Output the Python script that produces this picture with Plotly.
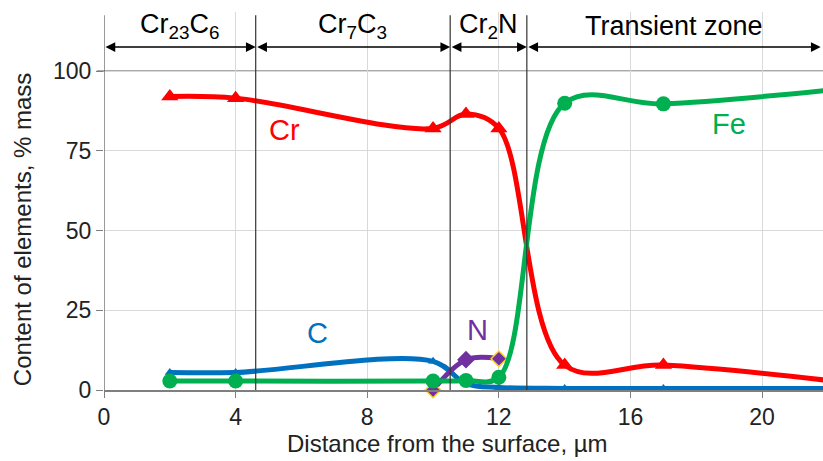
import plotly.graph_objects as go

# ---- data ----
x_main = [2, 4, 10, 11, 12, 14, 17, 22]
cr_vals = [92, 91.5, 82, 86.5, 82, 7.8, 7.8, 3]
fe_vals = [2.8, 2.8, 2.8, 3.0, 4.0, 89.9, 89.7, 94]
c_vals = [5.5, 5.5, 9.0, 2.0, 0.8, 0.5, 0.5, 0.5]
n_x = [10, 11, 12]
n_vals = [0, 9.5, 9.8]

zone_names = ["Cr<sub>23</sub>C<sub>6</sub>", "Cr<sub>7</sub>C<sub>3</sub>", "Cr<sub>2</sub>N", "Transient zone"]
zone_bounds = [0, 4.61, 10.52, 12.85, 21.78]

element_labels = ["Cr", "Fe", "C", "N"]
element_label_x = [5.5, 19.0, 6.5, 11.35]
element_label_y = [81.5, 83.5, 18, 18.8]

x_title = "Distance from the surface, µm"
y_title = "Content of elements, % mass"

RED = "#FF0000"
GREEN = "#00B050"
BLUE = "#0070C0"
PURPLE = "#7030A0"
YELLOW = "#FFD21F"

XMAX = 21.85
YMAX = 118.5
FONT = "Liberation Sans, Arial"

fig = go.Figure()

fig.add_trace(go.Scatter(
    x=x_main, y=c_vals, mode="lines+markers",
    line=dict(color=BLUE, width=5, shape="spline"),
    marker=dict(symbol="triangle-up", size=9, color=BLUE),
    cliponaxis=False, showlegend=False))

fig.add_trace(go.Scatter(
    x=n_x, y=n_vals, mode="lines+markers",
    line=dict(color=PURPLE, width=5, shape="spline"),
    marker=dict(symbol="diamond", size=12, color=PURPLE,
                line=dict(color=[YELLOW, PURPLE, YELLOW], width=1.5)),
    cliponaxis=False, showlegend=False))

fig.add_trace(go.Scatter(
    x=x_main, y=cr_vals, mode="lines+markers",
    line=dict(color=RED, width=5, shape="spline"),
    marker=dict(symbol="triangle-up", size=15, color=RED),
    cliponaxis=False, showlegend=False))

fig.add_trace(go.Scatter(
    x=x_main, y=fe_vals, mode="lines+markers",
    line=dict(color=GREEN, width=5, shape="spline"),
    marker=dict(symbol="circle", size=15, color=GREEN),
    cliponaxis=False, showlegend=False))

shapes = []
shapes.append(dict(type="line", xref="paper", yref="y", x0=-0.01, x1=1, y0=100, y1=100,
                   line=dict(color="#8c8c8c", width=1.5), layer="below"))
for b in zone_bounds[1:4]:
    shapes.append(dict(type="line", xref="x", yref="y", x0=b, x1=b, y0=0, y1=117.5,
                       line=dict(color="#333333", width=1.2)))
shapes.append(dict(type="line", xref="x", yref="y", x0=0, x1=0, y0=0, y1=117.5,
                   line=dict(color="#555555", width=1.2)))

annotations = []
for i, name in enumerate(zone_names):
    a, b = zone_bounds[i], zone_bounds[i + 1]
    annotations.append(dict(x=b, y=107.5, ax=a, ay=107.5, xref="x", yref="y",
                            axref="x", ayref="y", text="", showarrow=True,
                            arrowhead=2, arrowside="end+start", arrowsize=1.3,
                            arrowwidth=1.5, arrowcolor="black", standoff=0, startstandoff=0))
    annotations.append(dict(x=(a + b) / 2, y=114, xref="x", yref="y", text=name,
                            showarrow=False, yanchor="middle",
                            font=dict(family=FONT, size=27, color="black")))

label_colors = [RED, GREEN, BLUE, PURPLE]
for t, lx, ly, col in zip(element_labels, element_label_x, element_label_y, label_colors):
    annotations.append(dict(x=lx, y=ly, xref="x", yref="y", text=t, showarrow=False,
                            font=dict(family=FONT, size=29, color=col)))

annotations.append(dict(x=0.478, y=-0.142, xref="paper", yref="paper", text=x_title,
                        showarrow=False, xanchor="center", yanchor="middle",
                        font=dict(family=FONT, size=24, color="#222222")))
annotations.append(dict(x=-0.114, y=0.423, xref="paper", yref="paper", text=y_title,
                        showarrow=False, textangle=-90, xanchor="center", yanchor="middle",
                        font=dict(family=FONT, size=24, color="#222222")))

fig.update_layout(
    width=823, height=461,
    margin=dict(l=104, r=0, t=12, b=71),
    paper_bgcolor="white", plot_bgcolor="white",
    font=dict(family=FONT, size=23, color="#222222"),
    shapes=shapes, annotations=annotations,
    xaxis=dict(range=[0, XMAX], tickvals=[0, 4, 8, 12, 16, 20], automargin=False,
               showgrid=True, gridcolor="#d9d9d9", gridwidth=1,
               showline=True, linecolor="#7f7f7f", linewidth=1.5,
               ticks="outside", ticklen=6, tickcolor="#7f7f7f",
               zeroline=False),
    yaxis=dict(range=[0, YMAX], tickvals=[0, 25, 50, 75, 100], automargin=False,
               showgrid=True, gridcolor="#d9d9d9", gridwidth=1,
               showline=False,
               ticks="outside", ticklen=7, tickcolor="#7f7f7f",
               zeroline=False),
)

fig.write_html("out.html", config={"displayModeBar": False},
               post_script="document.body.style.margin='0';document.body.style.overflow='hidden';")
